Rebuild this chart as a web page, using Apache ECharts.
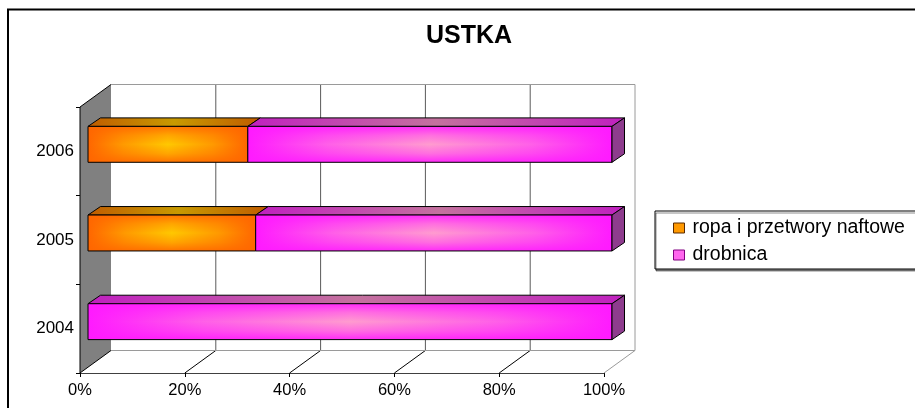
<!DOCTYPE html>
<html>
<head>
<meta charset="utf-8">
<title>USTKA</title>
<script src="https://cdn.jsdelivr.net/npm/echarts@6/dist/echarts.min.js"></script>
<style>
  html, body { margin: 0; padding: 0; background: #fff; }
  #chart { width: 915px; height: 408px; }
</style>
</head>
<body>
<div id="chart"></div>
<script>
// Cargo structure of the port of Ustka (share of tonnage, %)
const categories = ['2004', '2005', '2006'];
const seriesNames = ['ropa i przetwory naftowe', 'drobnica'];
const ropa = [0, 32, 30.5];
const drobnica = [100, 68, 69.5];
const xTicks = [0, 20, 40, 60, 80, 100];

const FONT = "'Liberation Sans', Arial, sans-serif";

// depth of the 3D box (walls) and of the bars, in pixels
const WALL_DX = 31, WALL_DY = -22.5;
const BAR_OFF_X = 8, BAR_OFF_Y = -7;
const BAR_DX = 12.5, BAR_DY = -8.5;
const BAR_RATIO = 0.405;

const palettes = [
  { // orange
    front: ['#FF6600', '#FF9A00', '#FFC800'],
    edge: 'rgba(255,102,0,',
    top: ['#C05C00', '#C89A00', '#C05C00'],
    legend: '#FF9900', legendBorder: '#5a2a00'
  },
  { // magenta
    front: ['#FF1AFF', '#FF60E8', '#FF9CCF'],
    edge: 'rgba(255,26,255,',
    top: ['#C020C0', '#C4729E', '#C020C0'],
    legend: '#FF66EE', legendBorder: '#800080'
  }
];
const SIDE_COLOR = '#8E3C8E';

function hGrad3(stops) {
  return new echarts.graphic.LinearGradient(0, 0, 1, 0, [
    { offset: 0, color: stops[0] }, { offset: 0.5, color: stops[1] }, { offset: 1, color: stops[2] }
  ]);
}
// edge colour -> mid tone -> centre colour -> mid tone -> edge colour
function hGrad5(stops) {
  return new echarts.graphic.LinearGradient(0, 0, 1, 0, [
    { offset: 0, color: stops[0] }, { offset: 0.22, color: stops[1] },
    { offset: 0.5, color: stops[2] },
    { offset: 0.78, color: stops[1] }, { offset: 1, color: stops[0] }
  ]);
}
function vEdgeGrad(base) {
  return new echarts.graphic.LinearGradient(0, 0, 0, 1, [
    { offset: 0, color: base + '0.9)' },
    { offset: 0.25, color: base + '0.35)' },
    { offset: 0.5, color: base + '0)' },
    { offset: 0.75, color: base + '0.35)' },
    { offset: 1, color: base + '0.9)' }
  ]);
}

// stacked segments: [categoryIndex, start, end, isLastSegment]
const allValues = [ropa, drobnica];
function segments(si) {
  return categories.map(function (c, ci) {
    let start = 0;
    for (let k = 0; k < si; k++) start += allValues[k][ci];
    const end = start + allValues[si][ci];
    let isLast = 1;
    for (let k = si + 1; k < allValues.length; k++) if (allValues[k][ci] > 0) isLast = 0;
    return [ci, start, end, isLast];
  });
}

function renderBar(si) {
  const pal = palettes[si];
  return function (params, api) {
    const cat = api.value(0), start = api.value(1), end = api.value(2), isLast = api.value(3);
    if (end - start <= 0) return null;
    const p0 = api.coord([start, cat]);
    const p1 = api.coord([end, cat]);
    const barH = api.size([0, 1])[1] * BAR_RATIO;
    const x0 = p0[0] + BAR_OFF_X, x1 = p1[0] + BAR_OFF_X;
    const yc = p0[1] + BAR_OFF_Y;
    const yT = yc - barH / 2, yB = yc + barH / 2;
    const children = [
      { type: 'polygon',
        shape: { points: [[x0, yT], [x1, yT], [x1 + BAR_DX, yT + BAR_DY], [x0 + BAR_DX, yT + BAR_DY]] },
        style: { fill: hGrad3(pal.top), stroke: '#000', lineWidth: 1 } },
      { type: 'rect', shape: { x: x0, y: yT, width: x1 - x0, height: barH },
        style: { fill: hGrad5(pal.front) } },
      { type: 'rect', shape: { x: x0, y: yT, width: x1 - x0, height: barH },
        style: { fill: vEdgeGrad(pal.edge), stroke: '#000', lineWidth: 1 } }
    ];
    if (isLast) {
      children.push({ type: 'polygon',
        shape: { points: [[x1, yT], [x1 + BAR_DX, yT + BAR_DY], [x1 + BAR_DX, yB + BAR_DY], [x1, yB]] },
        style: { fill: SIDE_COLOR, stroke: '#000', lineWidth: 1 } });
    }
    return { type: 'group', children: children };
  };
}

function renderWalls(params, api) {
  const cs = params.coordSys;
  const L = cs.x, R = cs.x + cs.width, T = cs.y, B = cs.y + cs.height;
  const ch = [];
  // left wall
  ch.push({ type: 'polygon',
    shape: { points: [[L, T], [L + WALL_DX, T + WALL_DY], [L + WALL_DX, B + WALL_DY], [L, B]] },
    style: { fill: '#808080' } });
  // back wall gridlines and floor lines
  xTicks.forEach(function (v) {
    const x = api.coord([v, 0])[0];
    if (v > xTicks[0] && v < xTicks[xTicks.length - 1]) {
      ch.push({ type: 'line', shape: { x1: x + WALL_DX, y1: T + WALL_DY, x2: x + WALL_DX, y2: B + WALL_DY },
        style: { stroke: '#5a5a5a', lineWidth: 1 } });
      ch.push({ type: 'line', shape: { x1: x, y1: B, x2: x + WALL_DX, y2: B + WALL_DY },
        style: { stroke: '#000', lineWidth: 1 } });
    }
  });
  // back wall and floor outline
  ch.push({ type: 'polyline',
    shape: { points: [[L + WALL_DX, T + WALL_DY], [R + WALL_DX, T + WALL_DY], [R + WALL_DX, B + WALL_DY], [L + WALL_DX, B + WALL_DY]] },
    style: { stroke: '#9a9a9a', lineWidth: 1, fill: null } });
  ch.push({ type: 'line', shape: { x1: R, y1: B, x2: R + WALL_DX, y2: B + WALL_DY },
    style: { stroke: '#9a9a9a', lineWidth: 1 } });
  // left wall edges
  ch.push({ type: 'polyline',
    shape: { points: [[L + WALL_DX, B + WALL_DY], [L, B], [L, T], [L + WALL_DX, T + WALL_DY]] },
    style: { stroke: '#000', lineWidth: 1, fill: null } });
  return { type: 'group', children: ch };
}

const chart = echarts.init(document.getElementById('chart'), null, { renderer: 'canvas' });

chart.setOption({
  animation: false,
  backgroundColor: '#fff',
  title: {
    text: 'USTKA',
    left: 426, top: 24, padding: 0,
    textStyle: { fontFamily: FONT, fontSize: 25, fontWeight: 'bold', color: '#000' }
  },
  graphic: [{
    type: 'rect', z: 100, silent: true,
    shape: { x: 8, y: 9.5, width: 1000, height: 500 },
    style: { fill: null, stroke: '#000', lineWidth: 2 }
  }],
  legend: {
    orient: 'vertical',
    left: 655, top: 211,
    padding: [6, 34, 3, 18],
    itemWidth: 11, itemHeight: 10, itemGap: 5,
    selectedMode: false,
    backgroundColor: '#fff',
    borderColor: '#000', borderWidth: 1,
    shadowColor: 'rgba(0,0,0,0.45)', shadowOffsetX: 1, shadowOffsetY: 2, shadowBlur: 0,
    textStyle: { fontFamily: FONT, fontSize: 19.5, color: '#000', lineHeight: 22, padding: [0, 0, 0, 3] },
    data: seriesNames.map(function (n, i) {
      return { name: n, icon: 'rect',
        itemStyle: { color: palettes[i].legend, borderColor: palettes[i].legendBorder, borderWidth: 1 } };
    })
  },
  grid: { left: 80, right: 311, top: 107, bottom: 35, containLabel: false },
  xAxis: {
    type: 'value', min: 0, max: 100, interval: 20,
    axisLine: { show: true, lineStyle: { color: '#404040', width: 1 } },
    axisTick: { show: true, length: 4, lineStyle: { color: '#000' } },
    splitLine: { show: false },
    axisLabel: { formatter: '{value}%', fontFamily: FONT, fontSize: 16.5, color: '#000', margin: 9 }
  },
  yAxis: {
    type: 'category', data: categories, boundaryGap: true,
    axisLine: { show: false },
    axisTick: { show: true, length: 4, lineStyle: { color: '#000' } },
    splitLine: { show: false },
    axisLabel: { fontFamily: FONT, fontSize: 17, color: '#000', margin: 6 }
  },
  series: [
    { type: 'custom', name: '_walls', z: 1, silent: true,
      renderItem: renderWalls, data: [[0, 0]], encode: { x: 0, y: 1 } },
    { type: 'custom', name: seriesNames[0], z: 3, silent: true,
      renderItem: renderBar(0), data: segments(0), encode: { x: [1, 2], y: 0 } },
    { type: 'custom', name: seriesNames[1], z: 3, silent: true,
      renderItem: renderBar(1), data: segments(1), encode: { x: [1, 2], y: 0 } }
  ]
});
</script>
</body>
</html>
